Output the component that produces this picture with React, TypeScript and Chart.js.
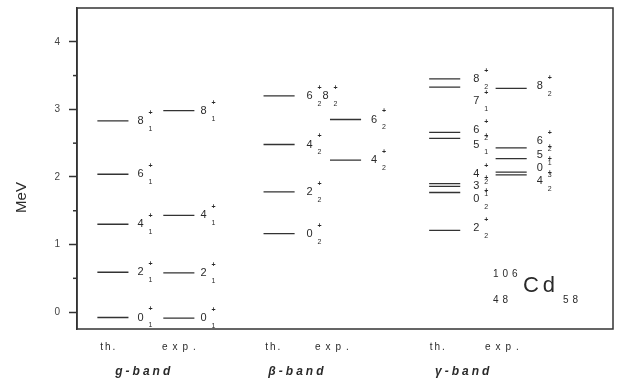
import React, { useEffect, useRef } from 'react';
import { Chart, registerables } from 'chart.js';

Chart.register(...registerables);

// ---- axis ----
const yMajorTicks = [0, 1, 2, 3, 4];
const yMinorTicks = [0.5, 1.5, 2.5, 3.5];
const yTitle = 'MeV';

// ---- category texts ----
const bandNames = ['g-band', 'β-band', 'γ-band'];
const columnNames = ['th.', 'exp.'];

// ---- level energies (MeV) ----
const gThE = [-0.08, 0.59, 1.3, 2.04, 2.83];
const gExpE = [-0.09, 0.58, 1.43, 2.98];
const bThE = [1.16, 1.78, 2.48, 3.2];
const bExpE = [2.25, 2.85];
const yThE = [1.21, 1.77, 1.86, 1.9, 2.57, 2.66, 3.33, 3.45];
const yExpE = [2.03, 2.07, 2.27, 2.43, 3.31];

// ---- level labels (spin, band index, energy where label sits) ----
const gThSpin = ['0', '2', '4', '6', '8'];
const gThIdx = ['1', '1', '1', '1', '1'];
const gThLabE = [-0.08, 0.59, 1.3, 2.04, 2.83];

const gExpSpin = ['0', '2', '4', '8'];
const gExpIdx = ['1', '1', '1', '1'];
const gExpLabE = [-0.09, 0.58, 1.43, 2.98];

const bThSpin = ['0', '2', '4', '6', '8'];
const bThIdx = ['2', '2', '2', '2', '2'];
const bThLabE = [1.16, 1.78, 2.48, 3.2, 3.2];

const bExpSpin = ['4', '6'];
const bExpIdx = ['2', '2'];
const bExpLabE = [2.25, 2.85];

const yThSpin = ['2', '0', '3', '4', '5', '6', '7', '8'];
const yThIdx = ['2', '2', '1', '2', '1', '2', '1', '2'];
const yThLabE = [1.25, 1.67, 1.87, 2.04, 2.48, 2.69, 3.12, 3.45];

const yExpSpin = ['4', '0', '5', '6', '8'];
const yExpIdx = ['2', '3', '1', '2', '2'];
const yExpLabE = [1.94, 2.14, 2.33, 2.53, 3.35];

// ---- nucleus ----
const nucA = '106';
const nucZ = '48';
const nucN = '58';
const nucSym = 'Cd';

// ---- layout (not data) ----
const colStart = [0.38, 1.61, 3.48, 4.72, 6.57, 7.81];
const levelWidth = 0.58;
const labelOffset = [9, 6, 12, 10, 13, 10];
const thX = [0.434, 3.51, 6.58];
const expX = [1.584, 4.44, 7.61];
const bandX = [0.714, 3.57, 6.68];

const columns = [
  { levels: gThE, spin: gThSpin, idx: gThIdx, labE: gThLabE },
  { levels: gExpE, spin: gExpSpin, idx: gExpIdx, labE: gExpLabE },
  { levels: bThE, spin: bThSpin, idx: bThIdx, labE: bThLabE },
  { levels: bExpE, spin: bExpSpin, idx: bExpIdx, labE: bExpLabE },
  { levels: yThE, spin: yThSpin, idx: yThIdx, labE: yThLabE },
  { levels: yExpE, spin: yExpSpin, idx: yExpIdx, labE: yExpLabE },
];

const SANS = '"Liberation Sans", Arial, sans-serif';
const INK = '#2a2a2a';

const decorPlugin = {
  id: 'decor',
  afterDatasetsDraw(chart: any) {
    const { ctx, chartArea, scales } = chart;
    const xs = scales.x;
    const ys = scales.y;
    ctx.save();
    // frame
    ctx.strokeStyle = '#333';
    ctx.lineWidth = 1.5;
    ctx.strokeRect(chartArea.left, chartArea.top, chartArea.right - chartArea.left, chartArea.bottom - chartArea.top);
    // minor ticks
    yMinorTicks.forEach((v) => {
      const py = ys.getPixelForValue(v);
      ctx.beginPath();
      ctx.moveTo(chartArea.left - 4, py);
      ctx.lineTo(chartArea.left, py);
      ctx.stroke();
    });
    // level labels
    ctx.fillStyle = INK;
    ctx.textBaseline = 'middle';
    ctx.textAlign = 'left';
    columns.forEach((col, ci) => {
      const endPx = xs.getPixelForValue(colStart[ci] + levelWidth);
      col.spin.forEach((s, i) => {
        let px = endPx + labelOffset[ci];
        for (let j = 0; j < i; j++) if (col.labE[j] === col.labE[i]) px += 16;
        const py = ys.getPixelForValue(col.labE[i]);
        ctx.font = `11px ${SANS}`;
        ctx.fillText(s, px, py);
        ctx.font = `bold 7px ${SANS}`;
        ctx.fillText('+', px + 11, py - 8);
        ctx.font = `7px ${SANS}`;
        ctx.fillText(col.idx[i], px + 11, py + 8);
      });
    });
    // column names and band names
    const thY = chartArea.bottom + 18;
    const bandY = chartArea.bottom + 43;
    ctx.font = `10px ${SANS}`;
    thX.forEach((x) => {
      (ctx as any).letterSpacing = '2px';
      ctx.fillText(columnNames[0], xs.getPixelForValue(x), thY);
    });
    expX.forEach((x) => {
      (ctx as any).letterSpacing = '5px';
      ctx.fillText(columnNames[1], xs.getPixelForValue(x), thY);
    });
    ctx.font = `italic bold 12px ${SANS}`;
    (ctx as any).letterSpacing = '3px';
    bandNames.forEach((b, i) => {
      ctx.fillText(b, xs.getPixelForValue(bandX[i]), bandY);
    });
    // nucleus label
    const nx = xs.getPixelForValue(7.76);
    ctx.font = `10px ${SANS}`;
    (ctx as any).letterSpacing = '4px';
    ctx.fillText(nucA, nx, ys.getPixelForValue(0.553));
    ctx.fillText(nucZ, nx, ys.getPixelForValue(0.182));
    ctx.fillText(nucN, nx + 70, ys.getPixelForValue(0.182));
    ctx.font = `22px ${SANS}`;
    (ctx as any).letterSpacing = '4px';
    ctx.fillText(nucSym, nx + 30, ys.getPixelForValue(0.383));
    (ctx as any).letterSpacing = '0px';
    // y title
    ctx.font = `15px ${SANS}`;
    ctx.textAlign = 'center';
    ctx.translate(21.5, 197.5);
    ctx.rotate(-Math.PI / 2);
    ctx.fillText(yTitle, 0, 0);
    ctx.restore();
  },
};

export default function App() {
  const ref = useRef<HTMLCanvasElement | null>(null);
  useEffect(() => {
    if (!ref.current) return;
    const datasets = columns.map((col, ci) => {
      const data: any[] = [];
      col.levels.forEach((e) => {
        data.push({ x: colStart[ci], y: e });
        data.push({ x: colStart[ci] + levelWidth, y: e });
        data.push({ x: colStart[ci] + levelWidth, y: null });
      });
      return {
        data,
        borderColor: '#333',
        borderWidth: 1.3,
        pointRadius: 0,
        spanGaps: false,
        fill: false,
      };
    });
    const chart = new Chart(ref.current, {
      type: 'line',
      data: { datasets },
      options: {
        responsive: false,
        animation: false,
        layout: { padding: { left: 0, top: 8, right: 6, bottom: 51 } },
        plugins: { legend: { display: false }, tooltip: { enabled: false } },
        scales: {
          x: { type: 'linear', min: 0, max: 10, display: false },
          y: {
            type: 'linear',
            min: -0.25,
            max: 4.5,
            afterBuildTicks: (s: any) => {
              s.ticks = [...yMajorTicks, ...yMinorTicks].sort((a, b) => a - b).map((v) => ({ value: v }));
            },
            afterFit: (s: any) => {
              s.width = 77;
              s.paddingTop = 0;
              s.paddingBottom = 0;
            },
            ticks: {
              autoSkip: false,
              padding: 9,
              color: '#444',
              font: { family: SANS, size: 10 },
              callback: (v: any) => (yMajorTicks.includes(Number(v)) ? String(v) : ''),
            },
            grid: {
              drawOnChartArea: false,
              tickLength: 8,
              tickWidth: 1.5,
              tickColor: (c: any) => (Number.isInteger(c.tick?.value) ? '#333' : 'rgba(0,0,0,0)'),
            },
            border: { display: true, color: '#333', width: 1.5 },
          },
        },
      } as any,
      plugins: [decorPlugin],
    });
    return () => chart.destroy();
  }, []);
  return (
    <div style={{ position: 'fixed', left: 0, top: 0, width: 619, height: 380, background: '#fff' }}>
      <canvas ref={ref} width={619} height={380} style={{ width: 619, height: 380 }} />
    </div>
  );
}
